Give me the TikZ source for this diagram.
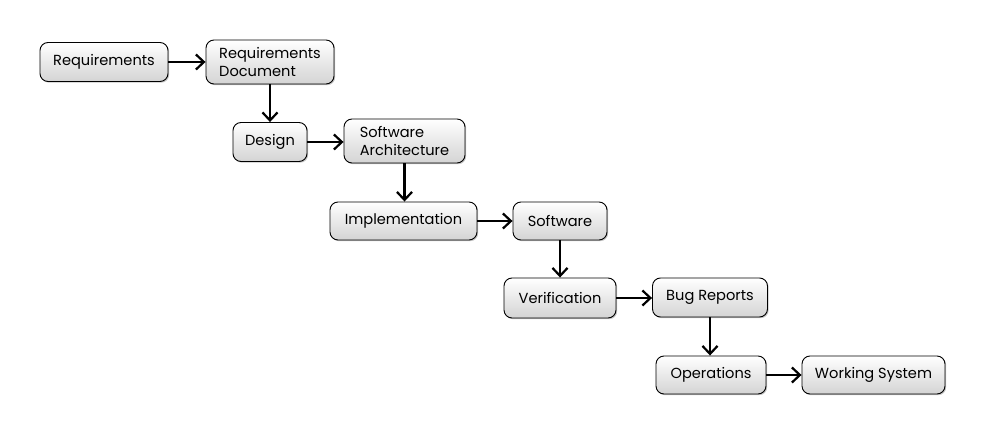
\documentclass[tikz,border=0pt]{standalone}
\usepackage{fontspec}
\setmainfont{Poppins}
\usetikzlibrary{arrows.meta,shadows}
\begin{document}
\begin{tikzpicture}[x=1pt,y=-1pt,
  box/.style={draw=black, line width=0.9pt, rounded corners=8pt,
    top color=white, bottom color=black!17, inner sep=0pt,
    font=\fontsize{14.6}{18}\selectfont, align=left,
    drop shadow={shadow xshift=1.2pt, shadow yshift=-1.2pt, fill=black!45, opacity=0.5}},
  conn/.style={line width=2.6pt, -{Straight Barb[length=8pt,width=15pt,line width=2.2pt]}}]
\useasboundingbox (0,0) rectangle (986,435);
\node[box, minimum width=128pt, minimum height=39pt] (req) at (104,62) {Requirements};
\node[box, minimum width=128pt, minimum height=44pt] (reqdoc) at (270,62) {Requirements\\Document};
\node[box, minimum width=74pt, minimum height=39pt] (design) at (270,142) {Design};
\node[box, minimum width=121pt, minimum height=44pt] (arch) at (404.5,141) {Software\\Architecture};
\node[box, minimum width=147pt, minimum height=38pt] (impl) at (403.5,221) {Implementation};
\node[box, minimum width=94pt, minimum height=38pt] (sw) at (560,221) {Software};
\node[box, minimum width=112pt, minimum height=40pt] (ver) at (560,298) {Verification};
\node[box, minimum width=115pt, minimum height=39pt] (bug) at (710,297.5) {Bug Reports};
\node[box, minimum width=110pt, minimum height=38pt] (ops) at (711,375) {Operations};
\node[box, minimum width=143pt, minimum height=38pt] (ws) at (873.5,375) {Working System};
\draw[conn] (req) -- (reqdoc);
\draw[conn] (reqdoc) -- (design);
\draw[conn] (design) -- (design -| arch.west);
\draw[conn] (arch) -- (arch |- impl.north);
\draw[conn] (impl) -- (sw);
\draw[conn] (sw) -- (ver);
\draw[conn] (ver) -- (ver -| bug.west);
\draw[conn] (bug) -- (bug |- ops.north);
\draw[conn] (ops) -- (ws);
\end{tikzpicture}
\end{document}
